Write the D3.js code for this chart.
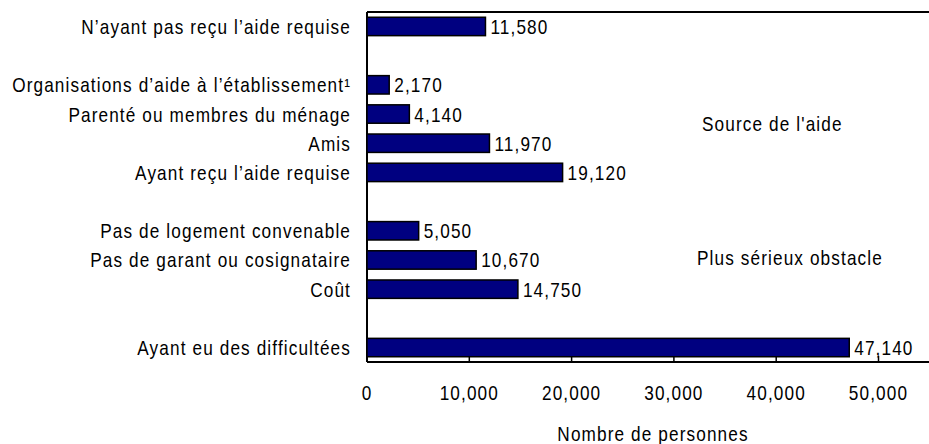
<!DOCTYPE html>
<html><head><meta charset="utf-8">
<script src="https://cdn.jsdelivr.net/npm/d3@7"></script>
<style>body{margin:0;background:#fff}svg{display:block}text{font-family:"Liberation Sans",Arial,sans-serif;fill:#000;font-size:20px;letter-spacing:1.3px}</style>
</head><body><svg id="c" width="929" height="444"></svg>
<script>
// Rows from top to bottom; empty label = gap row
const categories = ["N\u2019ayant pas reçu l\u2019aide requise", "", "Organisations d\u2019aide à l\u2019établissement\u00b9", "Parenté ou membres du ménage", "Amis", "Ayant reçu l\u2019aide requise", "", "Pas de logement convenable", "Pas de garant ou cosignataire", "Coût", "", "Ayant eu des difficultées"];
const values = [11580, null, 2170, 4140, 11970, 19120, null, 5050, 10670, 14750, null, 47140];
const tickValues = [0, 10000, 20000, 30000, 40000, 50000];
const groupLabels = ["Source de l'aide", "Plus sérieux obstacle"];
const axisTitle = "Nombre de personnes";

const svg = d3.select("#c");
const pL = 367, pR = 929, pT = 12, pB = 362;
const SX = 0.86;
const x = d3.scaleLinear().domain([0, 50000]).range([pL, 878.5]);
const y = d3.scaleBand().domain(d3.range(categories.length)).range([pT, pB]).paddingInner(0.37).paddingOuter(0.18);
const fmt = d3.format(",");

function label(parent, tx, ty, anchor, txt) {
  const g = parent.append("g").attr("transform", `translate(${tx},${ty}) scale(${SX},1)`);
  g.append("text").attr("text-anchor", anchor).text(txt);
  return g;
}

const rows = categories.map((c, i) => ({c, v: values[i], i})).filter(d => d.v != null);

// frame lines
svg.append("line").attr("x1", pL).attr("x2", pR).attr("y1", pT).attr("y2", pT).attr("stroke", "#000").attr("stroke-width", 2);
svg.append("line").attr("x1", pL).attr("x2", pL).attr("y1", pT).attr("y2", pB).attr("stroke", "#000").attr("stroke-width", 2);

// bars
svg.selectAll("rect.bar").data(rows).join("rect").attr("class", "bar")
  .attr("x", x(0)).attr("y", d => y(d.i)).attr("width", d => x(d.v) - x(0)).attr("height", y.bandwidth())
  .attr("fill", "#000080").attr("stroke", "#000").attr("stroke-width", 1.5);

rows.forEach(d => {
  const cy = y(d.i) + y.bandwidth() / 2 + 7.5;
  label(svg, x(d.v) + 5, cy, "start", fmt(d.v));
  label(svg, 351, cy, "end", d.c);
});

// x axis
const ax = svg.append("g").attr("transform", `translate(0,${pB})`);
ax.append("line").attr("x1", pL).attr("x2", pR).attr("stroke", "#000").attr("stroke-width", 2);
ax.selectAll("line.t").data(tickValues).join("line").attr("class", "t")
  .attr("x1", d => x(d)).attr("x2", d => x(d)).attr("y1", 0).attr("y2", -6).attr("stroke", "#000").attr("stroke-width", 1.5);
tickValues.forEach(v => label(ax, x(v), 38, "middle", fmt(v)));

label(svg, 653, 441, "middle", axisTitle);

// group annotations
label(svg, 702, 131, "start", groupLabels[0]);
label(svg, 697, 265, "start", groupLabels[1]);
</script></body></html>
